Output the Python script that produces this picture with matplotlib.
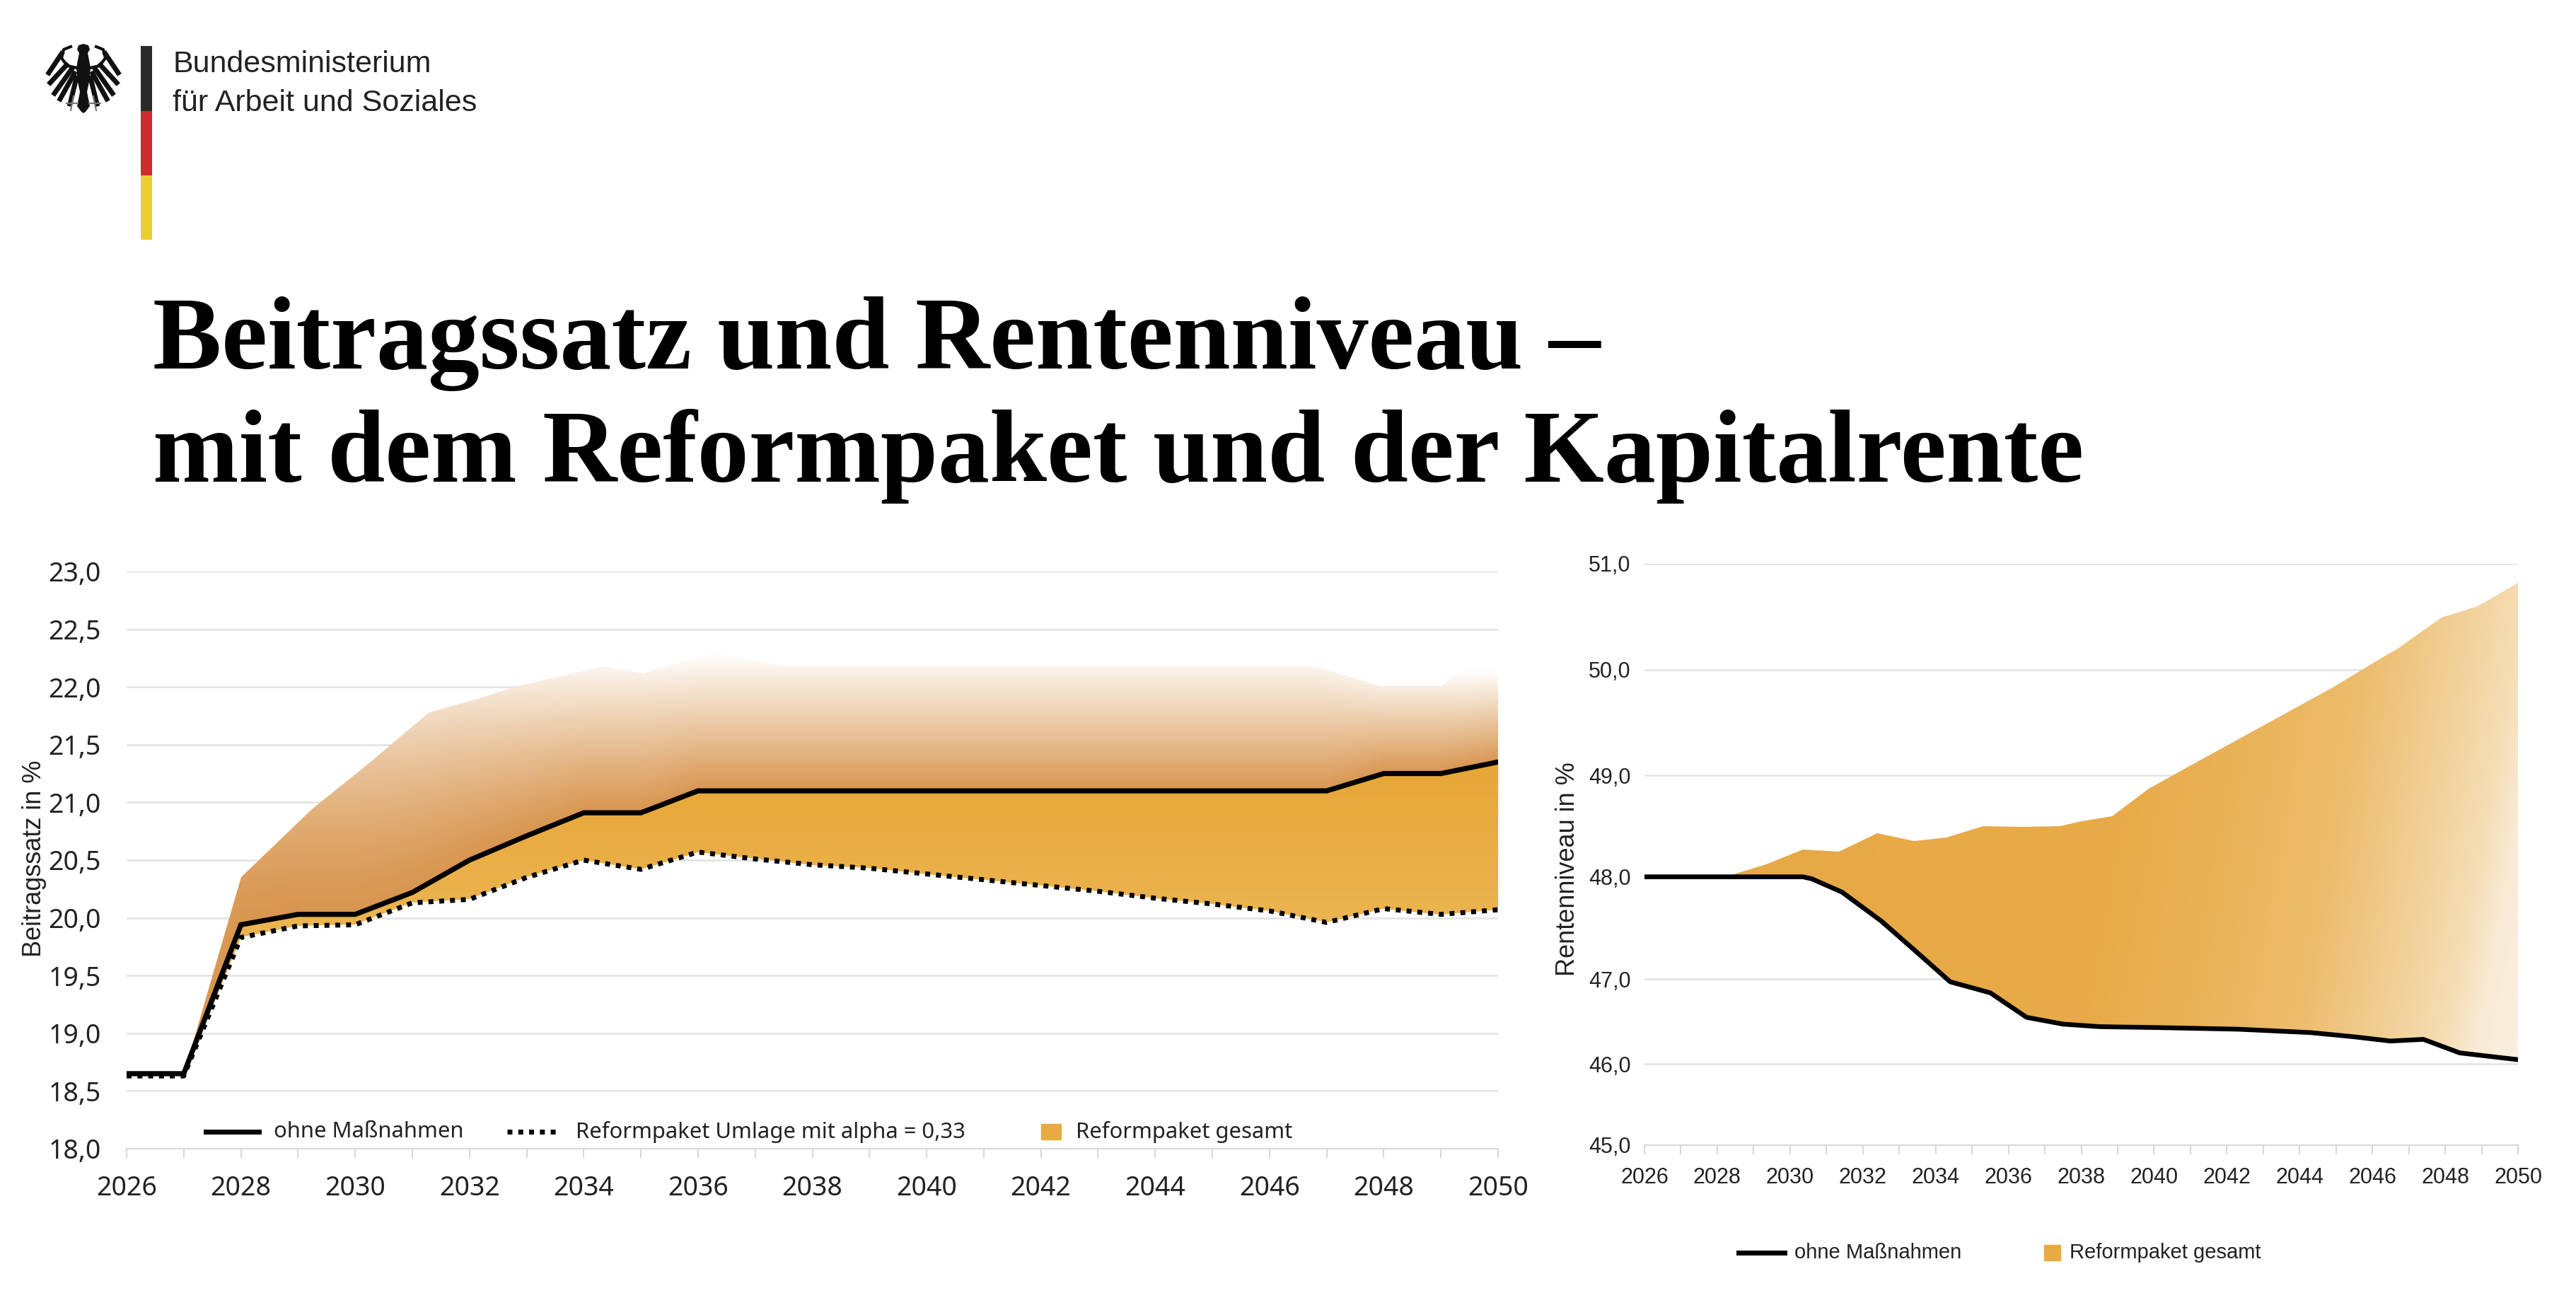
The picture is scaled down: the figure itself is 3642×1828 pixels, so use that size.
import numpy as np
import matplotlib
matplotlib.use('Agg')
import matplotlib.pyplot as plt
from matplotlib.lines import Line2D
from matplotlib.patches import Rectangle, Polygon
from matplotlib.transforms import Affine2D

W, H = 3642, 1828

# Daten Beitragssatz (links)
jahre = list(range(2026, 2051))
ohne_massnahmen = [18.65, 18.65, 19.94, 20.03, 20.03, 20.22, 20.50, 20.71, 20.91, 20.91, 21.10, 21.10, 21.10,
                   21.10, 21.10, 21.10, 21.10, 21.10, 21.10, 21.10, 21.10, 21.10, 21.25, 21.25, 21.35]
umlage_alpha = [18.63, 18.63, 19.83, 19.93, 19.94, 20.13, 20.16, 20.35, 20.50, 20.42, 20.57, 20.51, 20.46,
                20.43, 20.38, 20.33, 20.28, 20.23, 20.17, 20.12, 20.06, 19.96, 20.08, 20.03, 20.07]
gesamt_x = [2026, 2027, 2028, 2029.24, 2030.2, 2031.3, 2032.1, 2032.8, 2033.5, 2034.3, 2035.05, 2036.3,
            2037.5, 2040, 2044, 2046.8, 2048, 2049, 2050]
gesamt_y = [18.65, 18.65, 20.35, 20.94, 21.32, 21.78, 21.89, 22.00, 22.08, 22.18, 22.12, 22.30,
            22.18, 22.18, 22.18, 22.18, 22.00, 22.00, 22.40]

# Daten Rentenniveau (rechts)
niveau_x = [2026, 2030.35, 2030.6, 2031.43, 2032.5, 2033.4, 2034.4, 2035.5, 2036.5, 2037.5, 2038.5, 2040,
            2042.3, 2044.3, 2045.5, 2046.5, 2047.4, 2048.4, 2049, 2050]
niveau_ohne = [48.0, 48.0, 47.98, 47.85, 47.57, 47.29, 46.97, 46.84, 46.55, 46.47, 46.44, 46.43,
               46.41, 46.37, 46.32, 46.27, 46.29, 46.13, 46.10, 46.05]
reform_x = [2026, 2028.2, 2029.35, 2030.35, 2031.35, 2032.4, 2033.4, 2034.3, 2035.3, 2036.4, 2037.4, 2038,
            2038.85, 2039.85, 2041.3, 2043.1, 2044.9, 2046.2, 2046.7, 2047.9, 2048.9, 2050]
reform_y = [48.0, 48.0, 48.12, 48.27, 48.25, 48.43, 48.35, 48.39, 48.50, 48.49, 48.50, 48.55,
            48.60, 48.87, 49.15, 49.49, 49.83, 50.10, 50.20, 50.49, 50.60, 50.82]

links_ticks = [18.0, 18.5, 19.0, 19.5, 20.0, 20.5, 21.0, 21.5, 22.0, 22.5, 23.0]
links_labels = ['18,0', '18,5', '19,0', '19,5', '20,0', '20,5', '21,0', '21,5', '22,0', '22,5', '23,0']
rechts_ticks = [45, 46, 47, 48, 49, 50, 51]
rechts_labels = ['45,0', '46,0', '47,0', '48,0', '49,0', '50,0', '51,0']
# Die rechte Achse ist im Original nicht gleichmaessig geteilt
rechts_pos = [0, 169, 345, 558, 769, 989, 1209]
jahr_labels = [str(j) if j % 2 == 0 else '' for j in jahre]

GRID = '#e2e2e2'
TEXT = '#222222'
ARIAL = 'Liberation Sans'

fig = plt.figure(figsize=(W / 100, H / 100), dpi=100, facecolor='white')
px = Affine2D().scale(1 / W, -1 / H).translate(0, 1) + fig.transFigure


def achse(x0, x1, y0, y1):
    return fig.add_axes([x0 / W, 1 - y1 / H, (x1 - x0) / W, (y1 - y0) / H])


def text_px(x, y, s, **kw):
    fig.text(x, y, s, transform=px, **kw)


def verlauf(ax, ys, farbe, poly_x, poly_y):
    # Farbverlauf als Mesh, auf die Flaeche zugeschnitten
    xe = np.linspace(2026, 2050, 401)
    ye = np.linspace(ys[0], ys[1], 401)
    xc, yc = np.meshgrid((xe[:-1] + xe[1:]) / 2, (ye[:-1] + ye[1:]) / 2)
    flaeche = ax.fill(poly_x, poly_y, color='none', lw=0)[0]
    mesh = ax.pcolormesh(xe, ye, farbe(xc, yc), shading='flat', rasterized=True, zorder=1.5)
    mesh.set_clip_path(flaeche)


def mix(a, b, t):
    a, b = np.array(a, float), np.array(b, float)
    return (a + (b - a) * t[..., None]) / 255


def farbe_oben(x, y):
    # wird von der schwarzen Linie aus nach oben heller
    basis = np.interp(x, jahre, ohne_massnahmen)
    oben = np.interp(x, [2047, 2048], [22.3, 22.15])
    expo = np.interp(basis, [20, 21.1], [1.5, 1.0])
    t = np.clip((y - basis) / (oben - basis), 0, 1) ** expo
    return mix((216, 150, 80), (255, 255, 255), t)


def farbe_unten(x, y):
    return mix((231, 166, 56), (235, 180, 80), np.clip((21.2 - y) / 1.2, 0, 1))


def farbe_rechts(x, y):
    xeff = x + (48.5 - y) * 0.5
    stops_x = [2026, 2039, 2042, 2045, 2047, 2049, 2050, 2052]
    r = np.interp(xeff, stops_x, [231, 232, 233, 236, 240, 244, 248, 251])
    g = np.interp(xeff, stops_x, [168, 170, 178, 188, 204, 220, 234, 243])
    b = np.interp(xeff, stops_x, [68, 72, 87, 108, 143, 178, 212, 230])
    return np.dstack([r, g, b]) / 255


def achsen_stil(ax, ticks, labels, size, family, pad_y, pad_x):
    ax.set_xlim(2026, 2050)
    ax.set_xticks(jahre)
    ax.set_xticklabels(jahr_labels, fontsize=size, family=family, color=TEXT)
    ax.set_yticks(ticks)
    ax.set_yticklabels(labels, fontsize=size, family=family, color=TEXT)
    ax.tick_params(axis='y', length=0, pad=pad_y)
    ax.tick_params(axis='x', length=9, width=1.5, color='#d8d8d8', pad=pad_x)
    ax.grid(axis='y', color=GRID, lw=1.8, zorder=0)
    ax.set_axisbelow(True)
    for name, sp in ax.spines.items():
        sp.set_visible(name == 'bottom')
    ax.spines['bottom'].set_color('#d8d8d8')
    ax.spines['bottom'].set_linewidth(1.5)
    ax.patch.set_alpha(0)


def legende_linie(x0, x1, y, ls):
    fig.add_artist(Line2D([x0, x1], [y, y], transform=px, color='black', lw=5, ls=ls))


# Linkes Diagramm
ax1 = achse(179, 2118, 808, 1624)
ax1.set_ylim(18, 23)
achsen_stil(ax1, links_ticks, links_labels, 27, 'Noto Sans', 26, 18)
verlauf(ax1, (18, 23), farbe_oben, gesamt_x + jahre[::-1], gesamt_y + ohne_massnahmen[::-1])
verlauf(ax1, (18, 23), farbe_unten, jahre + jahre[::-1], ohne_massnahmen + umlage_alpha[::-1])
ax1.plot(jahre, umlage_alpha, color='black', lw=5, ls=(0, (1, 1.2)), zorder=3)
ax1.plot(jahre, ohne_massnahmen, color='black', lw=5.2, zorder=4, solid_joinstyle='miter')
text_px(48, 1214, 'Beitragssatz in %', rotation=90, ha='center', va='center', fontsize=26,
        family=ARIAL, color=TEXT)

legende_linie(291, 366, 1600, '-')
text_px(387, 1600, 'ohne Maßnahmen', va='center', fontsize=22.3, family='Noto Sans', color=TEXT)
legende_linie(717, 791, 1600, (0, (1, 1.2)))
text_px(814, 1600, 'Reformpaket Umlage mit alpha = 0,33', va='center', fontsize=22.3, family='Noto Sans', color=TEXT)
fig.add_artist(Rectangle((1472, 1589), 28, 22, transform=px, color='#e8ab42'))
text_px(1521, 1600, 'Reformpaket gesamt', va='center', fontsize=22.3, family='Noto Sans', color=TEXT)

# Rechtes Diagramm
ax2 = achse(2325, 3560, 797, 1619)
ax2.set_yscale('function', functions=(lambda v: np.interp(v, rechts_ticks, rechts_pos),
                                      lambda p: np.interp(p, rechts_pos, rechts_ticks)))
ax2.set_ylim(45, 51)
achsen_stil(ax2, rechts_ticks, rechts_labels, 22, ARIAL, 14, 13)
verlauf(ax2, (45, 51), farbe_rechts, reform_x + niveau_x[::-1], reform_y + niveau_ohne[::-1])
ax2.plot(niveau_x, niveau_ohne, color='black', lw=4.8, zorder=4)
text_px(2217, 1229, 'Rentenniveau in %', rotation=90, ha='center', va='center', fontsize=26,
        family=ARIAL, color=TEXT)

legende_linie(2458, 2523, 1771, '-')
text_px(2537, 1771, 'ohne Maßnahmen', va='center', fontsize=21, family=ARIAL, color=TEXT)
fig.add_artist(Rectangle((2890, 1760), 23, 22, transform=px, color='#e8ab42'))
text_px(2926, 1771, 'Reformpaket gesamt', va='center', fontsize=21, family=ARIAL, color=TEXT)

# Titel
text_px(216, 521, 'Beitragssatz und Rentenniveau –', fontsize=105, fontweight='bold',
        family='Liberation Serif', color='black')
text_px(216, 681, 'mit dem Reformpaket und der Kapitalrente', fontsize=105, fontweight='bold',
        family='Liberation Serif', color='black')

# Logo
for y0, y1, c in [(65, 157, '#2b2a29'), (157, 248, '#cf2a2e'), (248, 339, '#e9cf2f')]:
    fig.add_artist(Rectangle((199, y0), 16, y1 - y0, transform=px, color=c, lw=0))
text_px(244, 102, 'Bundesministerium', fontsize=31, family=ARIAL, color='#222222')
text_px(244, 157, 'für Arbeit und Soziales', fontsize=31, family=ARIAL, color='#222222')

# Bundesadler, grob nachgezeichnet
adler_x = 118
koerper = [(0, 62), (7, 64), (9, 70), (6, 75), (8, 85), (10, 96), (8, 116), (5, 130), (9, 150), (3, 158), (0, 160)]
bogen = [(9, 96), (23, 93), (31, 82), (28, 70), (18, 66)]
federn = [[(31, 76), (49, 103)], [(24, 92), (47, 117)], [(17, 98), (41, 132)], [(13, 104), (33, 140)],
          [(10, 110), (19, 147)]]
for seite in (1, -1):
    pts = [(adler_x + seite * u, v) for u, v in koerper]
    fig.add_artist(Polygon(pts + [(adler_x, 62)], transform=px, color='#111111', lw=0))
    fig.add_artist(Line2D([adler_x + seite * u for u, v in bogen], [v for u, v in bogen], transform=px,
                          color='#111111', lw=3))
    for f in federn:
        fig.add_artist(Line2D([adler_x + seite * u for u, v in f], [v for u, v in f], transform=px,
                              color='#111111', lw=5))
    fig.add_artist(Line2D([adler_x + seite * 8, adler_x + seite * 24], [146, 146], transform=px,
                          color='#777777', lw=1.5))
    fig.add_artist(Line2D([adler_x + seite * 14, adler_x + seite * 18], [136, 156], transform=px,
                          color='#777777', lw=1.5))

plt.savefig('out.png', dpi=100)
